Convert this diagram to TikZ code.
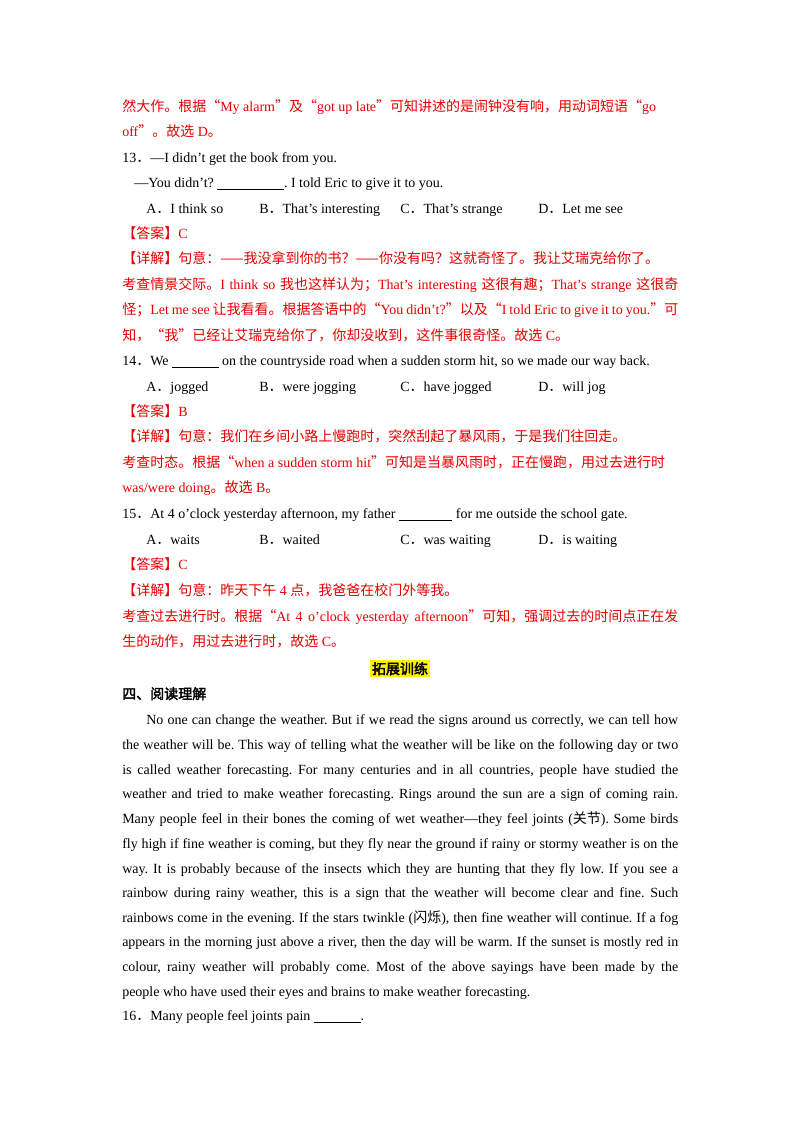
\documentclass[tikz,border=0pt]{standalone}
\usepackage{fontspec}
\setmainfont{Liberation Serif}
\newfontfamily\cjk[AutoFakeBold=2.5]{Noto Sans CJK SC}
\newcommand{\C}[1]{{\cjk #1}}
\definecolor{ansred}{RGB}{230,0,0}
\frenchspacing
\tikzset{ln/.style={anchor=base west,inner sep=0pt,font=\fontsize{10.5pt}{12pt}\selectfont\frenchspacing},
 rd/.style={ln,text=ansred},
 js/.style={ln,text width=417pt,align=justify}}
\newcommand{\J}[1]{{\parfillskip=0pt #1\par}}
\begin{document}
\begin{tikzpicture}[x=0.75pt,y=-0.75pt]
\useasboundingbox (0,0) rectangle (800,1132);
\node[rd] (l1) at (122,111) {\C{然大作。根据“}My alarm\C{”及“}got up late\C{”可知讲述的是闹钟没有响，用动词短语“}go};
\node[rd] (l2) at (122,136) {off\C{”。故选} D\C{。}};
\node[ln] (q13) at (122,162) {13\C{．}—I didn't get the book from you.};
\node[ln] (q13b) at (134,187) {—You didn't? \underline{\hspace{50pt}}. I told Eric to give it to you.};
\node[ln] (a13a) at (146,213) {A\C{．}I think so};
\node[ln] (a13b) at (259,213) {B\C{．}That's interesting};
\node[ln] (a13c) at (400,213) {C\C{．}That's strange};
\node[ln] (a13d) at (538,213) {D\C{．}Let me see};
\node[rd] (k13) at (122,238) {\C{【答案】}C};
\node[rd,js] (e13a) at (122,263) {\J{\C{【详解】句意：——我没拿到你的书？——你没有吗？这就奇怪了。我让艾瑞克给你了。}}};
\node[rd,js] (e13b) at (122,289) {\J{\C{考查情景交际。}I think so \C{我也这样认为；}That's interesting \C{这很有趣；}That's strange \C{这很奇}}};
\node[rd,js] (e13c) at (122,314) {\J{\C{怪；}Let me see \C{让我看看。根据答语中的“}You didn't?\C{”以及“}I told Eric to give it to you.\C{”可}}};
\node[rd] (e13d) at (122,340) {\C{知，“我”已经让艾瑞克给你了，你却没收到，这件事很奇怪。故选} C\C{。}};
\node[ln] (q14) at (122,365) {14\C{．}We \underline{\hspace{35pt}} on the countryside road when a sudden storm hit, so we made our way back.};
\node[ln] (a14a) at (146,391) {A\C{．}jogged};
\node[ln] (a14b) at (259,391) {B\C{．}were jogging};
\node[ln] (a14c) at (400,391) {C\C{．}have jogged};
\node[ln] (a14d) at (538,391) {D\C{．}will jog};
\node[rd] (k14) at (122,416) {\C{【答案】}B};
\node[rd] (e14a) at (122,441) {\C{【详解】句意：我们在乡间小路上慢跑时，突然刮起了暴风雨，于是我们往回走。}};
\node[rd] (e14b) at (122,467) {\C{考查时态。根据“}when a sudden storm hit\C{”可知是当暴风雨时，正在慢跑，用过去进行时}};
\node[rd] (e14c) at (122,492) {was/were doing\C{。故选} B\C{。}};
\node[ln] (q15) at (122,518) {15\C{．}At 4 o'clock yesterday afternoon, my father \underline{\hspace{40pt}} for me outside the school gate.};
\node[ln] (a15a) at (146,544) {A\C{．}waits};
\node[ln] (a15b) at (259,544) {B\C{．}waited};
\node[ln] (a15c) at (400,544) {C\C{．}was waiting};
\node[ln] (a15d) at (538,544) {D\C{．}is waiting};
\node[rd] (k15) at (122,569) {\C{【答案】}C};
\node[rd] (e15a) at (122,595) {\C{【详解】句意：昨天下午} 4 \C{点，我爸爸在校门外等我。}};
\node[rd,js] (e15b) at (122,621) {\J{\C{考查过去进行时。根据“}At 4 o'clock yesterday afternoon\C{”可知，强调过去的时间点正在发}}};
\node[rd] (e15c) at (122,646) {\C{生的动作，用过去进行时，故选} C\C{。}};
\node[ln,anchor=base,fill=yellow,inner sep=1.5pt] (t) at (400,674) {\C{\bfseries 拓展训练}};
\node[ln] (h4) at (122,699) {\C{\bfseries 四、阅读理解}};
\node[ln,text width=399pt,align=justify] (p1) at (146,724) {\J{No one can change the weather. But if we read the signs around us correctly, we can tell how}};
\node[ln,js] (p2) at (122,749) {\J{the weather will be. This way of telling what the weather will be like on the following day or two}};
\node[ln,js] (p3) at (122,774) {\J{is called weather forecasting. For many centuries and in all countries, people have studied the}};
\node[ln,js] (p4) at (122,798) {\J{weather and tried to make weather forecasting. Rings around the sun are a sign of coming rain.}};
\node[ln,js] (p5) at (122,823) {\J{Many people feel in their bones the coming of wet weather—they feel joints (\C{关节}). Some birds}};
\node[ln,js] (p6) at (122,848) {\J{fly high if fine weather is coming, but they fly near the ground if rainy or stormy weather is on the}};
\node[ln,js] (p7) at (122,873) {\J{way. It is probably because of the insects which they are hunting that they fly low. If you see a}};
\node[ln,js] (p8) at (122,897) {\J{rainbow during rainy weather, this is a sign that the weather will become clear and fine. Such}};
\node[ln,js] (p9) at (122,922) {\J{rainbows come in the evening. If the stars twinkle (\C{闪烁}), then fine weather will continue. If a fog}};
\node[ln,js] (p10) at (122,946) {\J{appears in the morning just above a river, then the day will be warm. If the sunset is mostly red in}};
\node[ln,js] (p11) at (122,971) {\J{colour, rainy weather will probably come. Most of the above sayings have been made by the}};
\node[ln] (p12) at (122,996) {people who have used their eyes and brains to make weather forecasting.};
\node[ln] (q16) at (122,1020) {16\C{．}Many people feel joints pain \underline{\hspace{35pt}}.};
\end{tikzpicture}
\end{document}
